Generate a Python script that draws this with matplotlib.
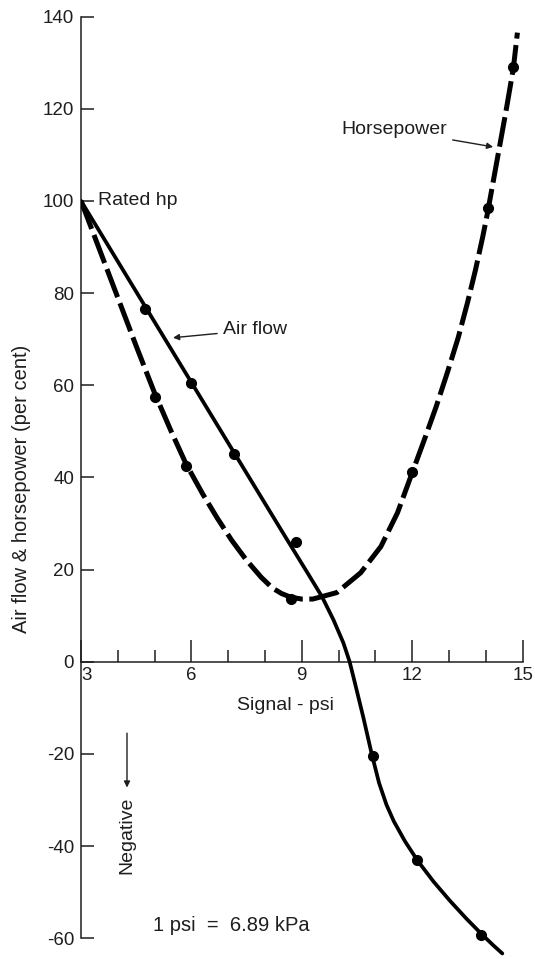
import numpy as np
import matplotlib
matplotlib.use('Agg')
import matplotlib.pyplot as plt

plt.rcParams['font.family'] = ['Liberation Sans', 'DejaVu Sans']

# air flow curve
airflow_x = [3.0, 4.75, 6.0, 7.15, 8.5, 9.2, 9.55, 9.86, 10.13, 10.3, 10.45, 10.67,
             10.9, 11.1, 11.3, 11.5, 11.8, 12.15, 12.58, 13.03, 13.48, 13.9, 14.2, 14.45]
airflow_y = [100.0, 77.0, 60.6, 45.5, 27.8, 18.7, 14.1, 9.1, 4.1, 0.0, -4.8, -12.0,
             -20.0, -26.3, -31.0, -34.6, -38.9, -43.2, -47.7, -51.9, -55.8, -59.2, -61.5, -63.3]
# measured points on the air flow curve
airflow_pts_x = [4.75, 6.0, 7.15, 8.85, 10.93, 12.14, 13.87]
airflow_pts_y = [76.5, 60.5, 45.0, 26.0, -20.5, -43.1, -59.2]

# horsepower curve
hp_x = [3.0, 3.5, 4.0, 4.5, 5.0, 5.45, 5.85, 6.3, 6.7, 7.1, 7.5, 7.9, 8.2, 8.45, 8.7,
        9.0, 9.3, 9.95, 10.6, 11.15, 11.6, 12.0, 12.35, 12.65, 12.95, 13.25, 13.5,
        13.72, 13.92, 14.05, 14.3, 14.55, 14.75, 14.86]
hp_y = [100.0, 89.5, 79.0, 68.5, 58.3, 50.0, 43.0, 36.5, 31.2, 26.3, 22.0, 18.3, 16.0,
        14.8, 14.0, 13.6, 13.6, 15.0, 19.3, 25.0, 32.3, 41.0, 48.6, 55.3, 62.6, 70.3,
        77.8, 85.0, 92.3, 97.5, 108.5, 119.5, 128.8, 136.5]
# measured points on the horsepower curve
hp_pts_x = [5.0, 5.85, 8.7, 12.0, 14.05, 14.75]
hp_pts_y = [57.5, 42.5, 13.7, 41.2, 98.5, 129.0]

x_ticks = [3, 6, 9, 12, 15]
x_minor = [4, 5, 7, 8, 10, 11, 13, 14]
y_ticks = list(range(-60, 141, 20))

ink = '#1e1e1e'

fig = plt.figure(figsize=(5.35, 9.59), dpi=100, facecolor='white')
ax = fig.add_axes([0.1514, 0.0, 0.846, 0.990])
ax.set_xlim(3, 15.3)
ax.set_ylim(-64.5, 141.5)

# axes drawn like the original: y axis at 3 psi, x axis at 0 %
for s in ['top', 'right']:
    ax.spines[s].set_visible(False)
ax.spines['left'].set_bounds(-60, 140)
ax.spines['bottom'].set_position(('data', 0))
ax.spines['bottom'].set_bounds(3, 15)
for s in ['left', 'bottom']:
    ax.spines[s].set_linewidth(1.1)
    ax.spines[s].set_color(ink)

ax.set_yticks(y_ticks)
ax.set_yticklabels([str(v) for v in y_ticks])
ax.set_xticks(x_ticks)
ax.set_xticklabels([str(v) for v in x_ticks])
ax.set_xticks(x_minor, minor=True)
ax.tick_params(axis='y', direction='in', length=9.5, width=1.1, pad=5,
               labelsize=13.5, colors=ink)
ax.tick_params(axis='x', which='major', direction='in', length=16, width=1.1, pad=4,
               labelsize=13.5, colors=ink)
ax.tick_params(axis='x', which='minor', direction='in', length=9, width=1.1, colors=ink)
ax.get_xticklabels()[0].set_ha('left')

ax.plot(airflow_x, airflow_y, color='black', lw=2.7, solid_capstyle='round',
        solid_joinstyle='round', zorder=3)
ax.plot(airflow_pts_x, airflow_pts_y, 'o', color='black', ms=7, zorder=4)

ax.plot(hp_x, hp_y, color='black', lw=3.6, linestyle=(0, (6, 1.3)), zorder=3)
ax.plot(hp_pts_x, hp_pts_y, 'o', color='black', ms=7, zorder=4)

tkw = dict(fontsize=14, color=ink)
akw = dict(arrowstyle='-|>', lw=1, color=ink, mutation_scale=9, shrinkA=2, shrinkB=0)
ax.text(3.45, 100, 'Rated hp', va='center', ha='left', **tkw)
ax.annotate('Air flow', xy=(5.5, 70.3), xytext=(6.85, 72), va='center', ha='left',
            arrowprops=akw, **tkw)
ax.annotate('Horsepower', xy=(14.2, 111.7), xytext=(12.95, 115.4), va='center', ha='right',
            arrowprops=akw, **tkw)
ax.text(8.57, -9.5, 'Signal - psi', va='center', ha='center', **tkw)
ax.text(4.25, -37.7, 'Negative', rotation=90, va='center', ha='center', **tkw)
ax.annotate('', xy=(4.25, -27.3), xytext=(4.25, -15.5),
            arrowprops=dict(akw, shrinkA=0))
ax.text(4.97, -57.3, '1 psi  =  6.89 kPa', va='center', ha='left', fontsize=14.5, color=ink)

fig.text(22 / 535, 1 - 489 / 959, 'Air flow & horsepower (per cent)', rotation=90,
         va='center', ha='center', fontsize=14.5, color=ink)

fig.savefig('out.png', dpi=100, facecolor='white')
